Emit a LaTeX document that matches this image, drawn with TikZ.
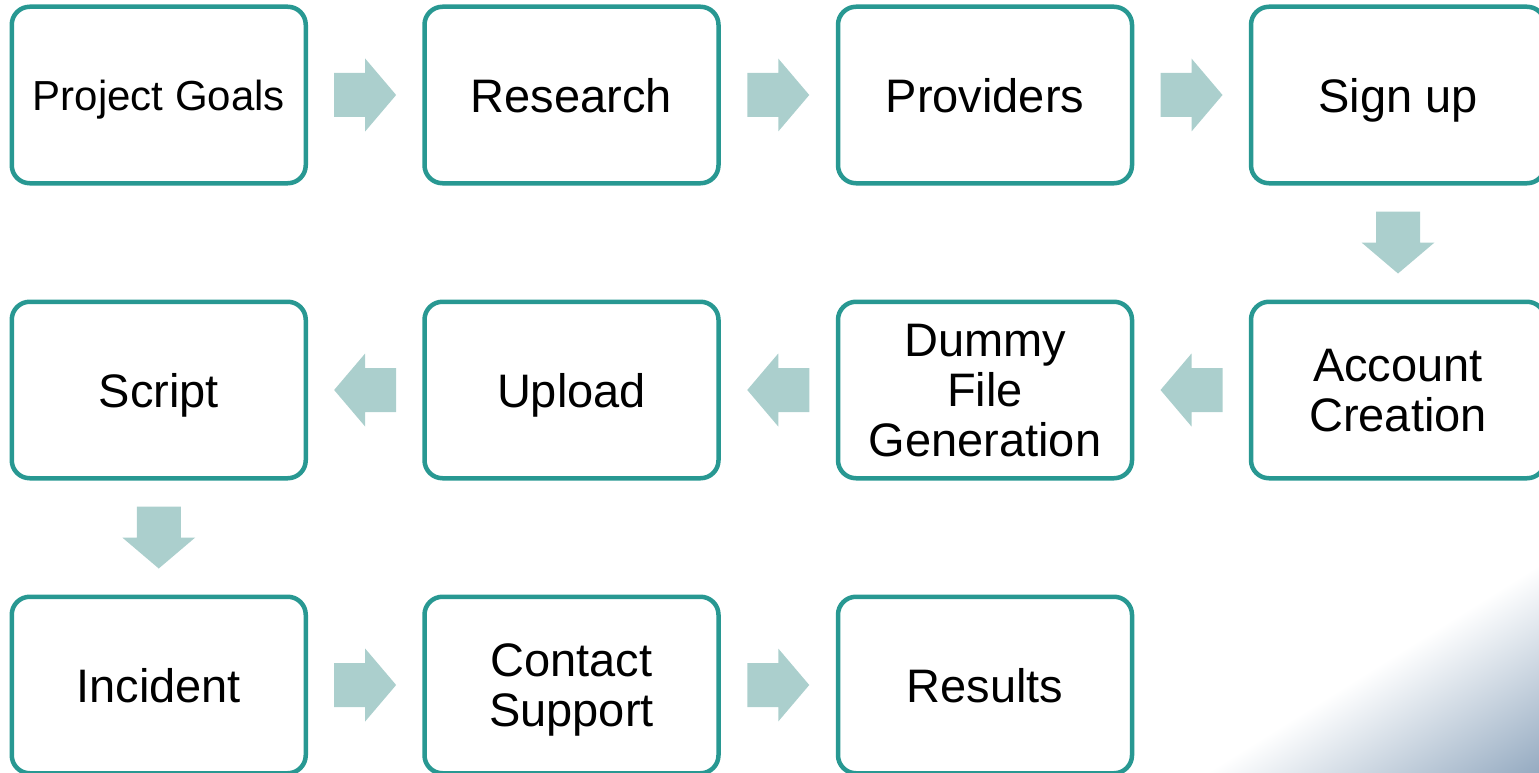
\documentclass[tikz,border=0pt]{standalone}
\usepackage{fontspec}
\setmainfont{Liberation Sans}
\usetikzlibrary{calc}
\definecolor{boxline}{HTML}{289892}
\definecolor{flowfill}{HTML}{ABCFCD}
\definecolor{swoosh}{HTML}{93A9C0}
\definecolor{swooshmid}{HTML}{C4D0DC}
\definecolor{bandgray}{HTML}{E2E7ED}
\tikzset{
  stepbox/.style={draw=boxline, line width=4.5pt, rounded corners=18pt,
    minimum width=294pt, minimum height=176.5pt, inner sep=0pt,
    text depth=0pt,
    fill=white, align=center, font=\fontsize{47}{50}\selectfont},
  blockarrow/.pic={
    \fill[flowfill] (-31,-22) -- (0,-22) -- (0,-36.5) -- (31,0)
      -- (0,36.5) -- (0,22) -- (-31,22) -- cycle;
  },
}
\begin{document}
\begin{tikzpicture}[x=1pt,y=-1pt]
\useasboundingbox (0,0) rectangle (1539,773);

% soft blue-grey sweep in the lower right corner
\begin{scope}[transform canvas={shift={(1334pt,-610pt)}, rotate=25}]
  \shade[top color=white, middle color=bandgray, bottom color=white]
    (-450,-45) rectangle (450,45);
\end{scope}
\begin{scope}[transform canvas={shift={(1385pt,-661pt)}, rotate=32}]
  \shade[top color=white, middle color=swooshmid, bottom color=swoosh]
    (-450,0) rectangle (450,180);
\end{scope}

% process steps
\node[stepbox, font=\fontsize{42}{46}\selectfont] (goals) at (158.75,95) {Project Goals};
\node[stepbox] (research)  at (571.5,95)  {Research};
\node[stepbox] (providers) at (985,95)    {Providers};
\node[stepbox] (signup)    at (1398,95)   {Sign up};

\node[stepbox] (account)   at (1398,390)  {Account\\Creation};
\node[stepbox] (dummy)     at (985,390)   {Dummy\\File\\Generation};
\node[stepbox] (upload)    at (571.5,390) {Upload};
\node[stepbox] (script)    at (158.75,390){Script};

\node[stepbox] (incident)  at (158.75,685){Incident};
\node[stepbox] (support)   at (571.5,685) {Contact\\Support};
\node[stepbox] (results)   at (985,685)   {Results};

% block arrows between consecutive steps
\path ($(goals.east)!0.5!(research.west)$)     pic {blockarrow};
\path ($(research.east)!0.5!(providers.west)$) pic {blockarrow};
\path ($(providers.east)!0.5!(signup.west)$)   pic {blockarrow};
\path ($(signup.south)!0.5!(account.north)$)   pic[rotate=-90] {blockarrow};
\path ($(account.west)!0.5!(dummy.east)$)      pic[rotate=180] {blockarrow};
\path ($(dummy.west)!0.5!(upload.east)$)       pic[rotate=180] {blockarrow};
\path ($(upload.west)!0.5!(script.east)$)      pic[rotate=180] {blockarrow};
\path ($(script.south)!0.5!(incident.north)$)  pic[rotate=-90] {blockarrow};
\path ($(incident.east)!0.5!(support.west)$)   pic {blockarrow};
\path ($(support.east)!0.5!(results.west)$)    pic {blockarrow};
\end{tikzpicture}
\end{document}
